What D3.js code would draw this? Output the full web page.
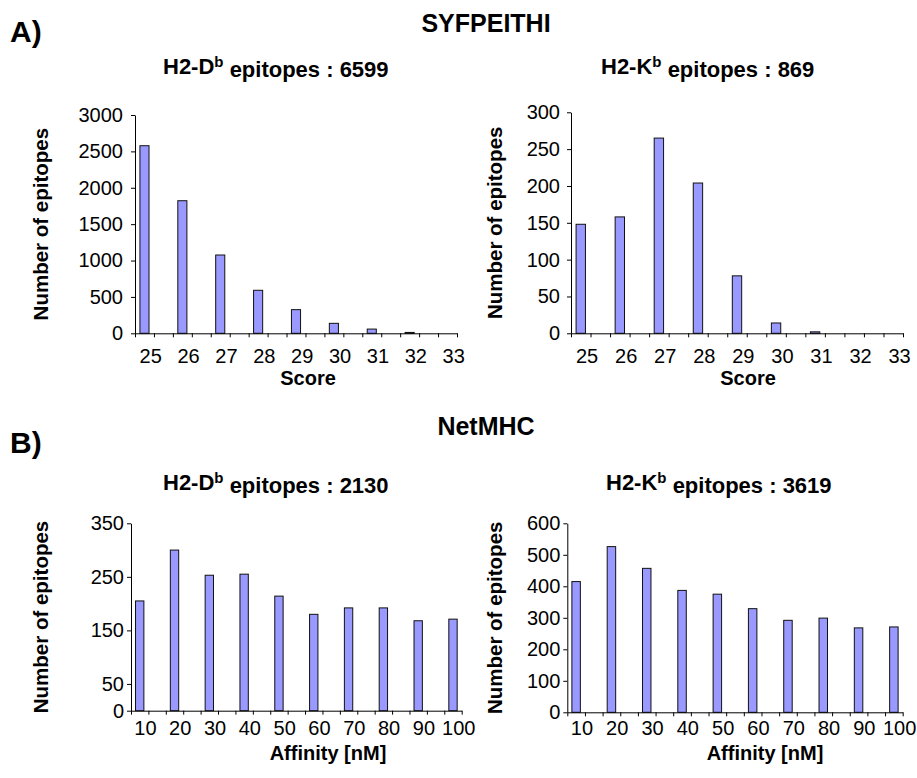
<!DOCTYPE html>
<html>
<head>
<meta charset="utf-8">
<script src="https://cdn.jsdelivr.net/npm/d3@7"></script>
<style>
  body { margin: 0; background: #fff; }
  text { font-family: "Liberation Sans", Arial, sans-serif; fill: #000; }
</style>
</head>
<body>
<svg id="chart" width="917" height="778"></svg>
<script>
// data
var scoreCats = [25, 26, 27, 28, 29, 30, 31, 32, 33];
var syfDb = [2578, 1822, 1076, 591, 325, 137, 58, 12, 0];
var syfKb = [148, 158, 265, 204, 78, 14, 2, 0, 0];

var affinityCats = [10, 20, 30, 40, 50, 60, 70, 80, 90, 100];
var netDb = [205, 300, 253, 255, 214, 180, 192, 192, 168, 171];
var netKb = [415, 526, 457, 387, 375, 329, 292, 299, 268, 271];

var ticksSyfDb = [0, 500, 1000, 1500, 2000, 2500, 3000];
var ticksSyfKb = [0, 50, 100, 150, 200, 250, 300];
var ticksNetDb = [0, 50, 150, 250, 350];
var ticksNetKb = [0, 100, 200, 300, 400, 500, 600];

var svg = d3.select("#chart");
var barFill = "#9999ff";

//big section headers
svg.append("text").attr("x", 10).attr("y", 42)
    .style("font-size", "30px").style("font-weight", "bold").text("A)");
svg.append("text").attr("x", 10).attr("y", 453)
    .style("font-size", "30px").style("font-weight", "bold").text("B)");
svg.append("text").attr("x", 486).attr("y", 32).attr("text-anchor", "middle")
    .style("font-size", "25px").style("font-weight", "bold").text("SYFPEITHI");
svg.append("text").attr("x", 486).attr("y", 435).attr("text-anchor", "middle")
    .style("font-size", "25px").style("font-weight", "bold").text("NetMHC");

//one histogram panel
function draw_panel(p) {
    var nSlots = p.cats.length * 2 - 1;
    var x = d3.scaleLinear().domain([0, nSlots]).range([p.x0, p.x1]);
    var y = d3.scaleLinear().domain([0, p.yMax]).range([p.yBottom, p.yTop]);
    var slotW = x(1) - x(0);

    //title with superscript
    var t = svg.append("text")
        .attr("x", p.titleX)
        .attr("y", p.titleY)
        .style("font-size", "22px")
        .style("font-weight", "bold");
    t.append("tspan").text("H2-" + p.allele);
    t.append("tspan").attr("dy", "-0.45em").style("font-size", "15px").text("b");
    t.append("tspan").attr("dy", "0.45em").text(" epitopes : " + p.total);

    //bars
    svg.append("g").selectAll("rect")
        .data(p.values)
        .enter().append("rect")
        .attr("x", (d, i) => x(2 * i + 0.5) - slotW * 0.24)
        .attr("width", slotW * 0.48)
        .attr("y", d => y(d))
        .attr("height", d => y(0) - y(d))
        .attr("fill", barFill)
        .attr("stroke", "#111")
        .attr("stroke-width", 1);

    //x axis line + slot ticks
    var xAxis = svg.append("g")
        .attr("transform", "translate(0," + y(0) + ")")
        .call(d3.axisBottom(x).tickValues(d3.range(nSlots + 1)).tickFormat("").tickSize(4).tickSizeOuter(0));
    xAxis.select(".domain").attr("stroke", "#000");

    //x labels
    var xLab = svg.append("g")
        .attr("transform", "translate(0," + y(0) + ")")
        .call(d3.axisBottom(x)
            .tickValues(p.cats.map((d, i) => 2 * i + 0.8))
            .tickFormat((d, i) => p.cats[i])
            .tickSize(0)
            .tickPadding(p.xPad));
    xLab.select(".domain").remove();
    xLab.selectAll("text").style("font-size", "20px").style("font-family", "Liberation Sans, Arial, sans-serif");

    //y axis
    var yAxis = svg.append("g")
        .attr("transform", "translate(" + p.x0 + ",0)")
        .call(d3.axisLeft(y).tickValues(p.ticks).tickFormat(d3.format("d"))
            .tickSize(4).tickSizeOuter(0).tickPadding(p.yPad));
    yAxis.selectAll("text").style("font-size", "20px").style("font-family", "Liberation Sans, Arial, sans-serif");

    //axis titles
    svg.append("text")
        .attr("transform", "translate(" + p.yTitleX + "," + (p.yTop + p.yBottom) / 2 + ") rotate(-90)")
        .attr("text-anchor", "middle")
        .style("font-size", "20.5px").style("font-weight", "bold")
        .text("Number of epitopes");
    svg.append("text")
        .attr("x", p.xTitleX)
        .attr("y", p.xTitleY)
        .attr("text-anchor", "middle")
        .style("font-size", "20px").style("font-weight", "bold")
        .text(p.xTitle);
}

draw_panel({cats: scoreCats, values: syfDb, ticks: ticksSyfDb, yMax: 3000,
    x0: 135, x1: 457, yTop: 115, yBottom: 333.3, xPad: 15.5, yPad: 8,
    allele: "D", total: 6599, titleX: 163, titleY: 74,
    yTitleX: 48, xTitle: "Score", xTitleX: 308, xTitleY: 385});
draw_panel({cats: scoreCats, values: syfKb, ticks: ticksSyfKb, yMax: 300,
    x0: 571, x1: 903, yTop: 112.3, yBottom: 333.3, xPad: 15.5, yPad: 7,
    allele: "K", total: 869, titleX: 601, titleY: 74,
    yTitleX: 502, xTitle: "Score", xTitleX: 748, xTitleY: 385});
draw_panel({cats: affinityCats, values: netDb, ticks: ticksNetDb, yMax: 350,
    x0: 131, x1: 461.7, yTop: 523.3, yBottom: 710.7, xPad: 10, yPad: 3,
    allele: "D", total: 2130, titleX: 163, titleY: 490,
    yTitleX: 48, xTitle: "Affinity [nM]", xTitleX: 328, xTitleY: 760});
draw_panel({cats: affinityCats, values: netKb, ticks: ticksNetKb, yMax: 600,
    x0: 567.3, x1: 902.7, yTop: 523.3, yBottom: 712.3, xPad: 8.5, yPad: 3,
    allele: "K", total: 3619, titleX: 606, titleY: 490,
    yTitleX: 502, xTitle: "Affinity [nM]", xTitleX: 765, xTitleY: 760});
</script>
</body>
</html>
